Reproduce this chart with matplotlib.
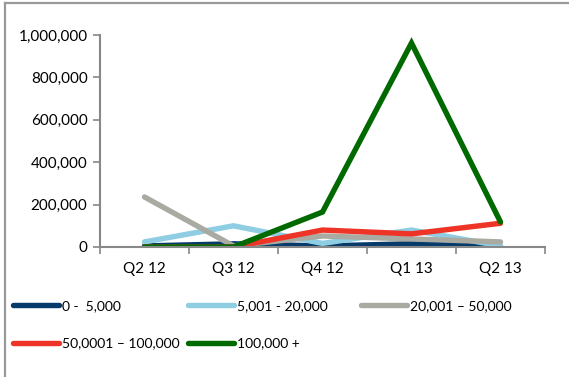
import matplotlib
matplotlib.use("Agg")
import matplotlib.pyplot as plt
from matplotlib.ticker import FuncFormatter, FixedLocator
from matplotlib.lines import Line2D

categories = ["Q2 12", "Q3 12", "Q4 12", "Q1 13", "Q2 13"]
s_0_5k = [5000, 15000, 5000, 15000, 3000]
s_5k_20k = [24000, 100000, 17000, 80000, 5000]
s_20k_50k = [236000, 5000, 52000, 38000, 24000]
s_50k_100k = [0, 0, 80000, 62000, 112000]
s_100k_plus = [0, 0, 165000, 962000, 118000]

labels = ["0 -  5,000", "5,001 - 20,000", "20,001 \u2013 50,000",
          "50,0001 \u2013 100,000", "100,000 +"]
colors = ["#063A6B", "#8ECDE2", "#A9AAA2", "#EE3427", "#006A00"]
series = [s_0_5k, s_5k_20k, s_20k_50k, s_50k_100k, s_100k_plus]

plt.rcParams['font.family'] = ['Lato', 'DejaVu Sans']
FS = 11
LFS = 10

fig = plt.figure(figsize=(5.69, 3.77), dpi=100)
ax = fig.add_axes([100/569, 1 - 247/377, 445/569, 212/377])

x = list(range(len(categories)))
handles = []
for vals, c, lab in zip(series, colors, labels):
    h, = ax.plot(x, vals, color=c, lw=3.9, solid_capstyle='round',
                 solid_joinstyle='miter', label=lab)
    handles.append(h)

ax.set_xlim(-0.5, 4.5)
ax.set_ylim(0, 1000000)
ax.set_yticks([0, 200000, 400000, 600000, 800000, 1000000])
ax.yaxis.set_major_formatter(FuncFormatter(lambda v, p: f"{int(v):,}"))
ax.set_xticks(x)
ax.set_xticklabels(categories)
ax.xaxis.set_minor_locator(FixedLocator([-0.5, 0.5, 1.5, 2.5, 3.5, 4.5]))
ax.tick_params(axis='x', which='major', length=0, pad=11, labelsize=FS, colors='black')
ax.tick_params(axis='x', which='minor', length=5, width=1.2, color='#888888', direction='out')
ax.tick_params(axis='y', length=5, width=1.2, color='#888888', labelsize=FS, pad=4)
for sp in ['top', 'right']:
    ax.spines[sp].set_visible(False)
for sp in ['left', 'bottom']:
    ax.spines[sp].set_color('#888888')
    ax.spines[sp].set_linewidth(1.5)

# three legend columns with equal widths
cols = [[0, 3], [1, 4], [2]]
col_x = [10, 185, 358]
for xs, idx in zip(col_x, cols):
    fig.legend([handles[i] for i in idx], [labels[i] for i in idx],
               ncol=1, loc='upper left', bbox_to_anchor=(xs/569, 1 - 297/377),
               frameon=False, fontsize=LFS, handlelength=3.3, handletextpad=0.25,
               labelspacing=1.85, borderaxespad=0, borderpad=0.2)

fig.add_artist(Line2D([5/569, 5/569], [0, 1 - 2.5/377], transform=fig.transFigure,
                      color='#999999', lw=1.6))
fig.add_artist(Line2D([5/569, 1], [1 - 2.5/377, 1 - 2.5/377], transform=fig.transFigure,
                      color='#999999', lw=1.6))

fig.savefig("out.png", dpi=100)
